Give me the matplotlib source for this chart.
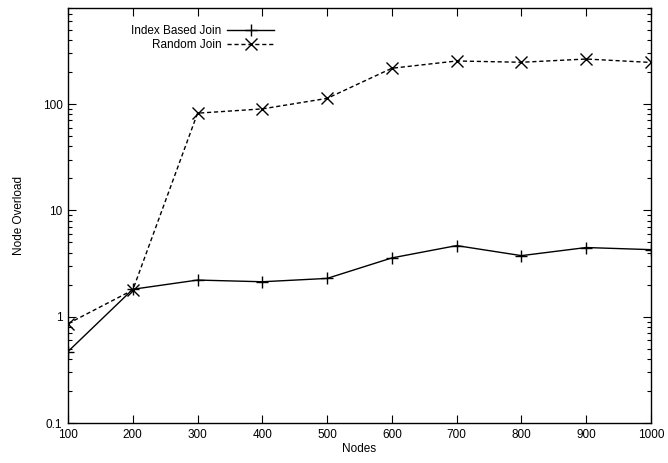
import matplotlib
matplotlib.use("Agg")
import matplotlib.pyplot as plt
from matplotlib.ticker import LogLocator, NullFormatter

plt.rcParams['font.family'] = ['Liberation Sans', 'DejaVu Sans']

nodes = [100, 200, 300, 400, 500, 600, 700, 800, 900, 1000]
index_join = [0.47, 1.81, 2.21, 2.13, 2.29, 3.57, 4.66, 3.75, 4.47, 4.27]
random_join = [0.86, 1.78, 82, 90, 113, 217, 254, 247, 265, 246]
ytick_vals = [0.1, 1, 10, 100]
ytick_labels = ['0.1', '1', '10', '100']

fig = plt.figure(figsize=(6.68, 4.63), dpi=100)
ax = fig.add_axes([68 / 668, 1 - 423 / 463, (651 - 68) / 668, (423 - 8) / 463])

ax.plot(nodes, index_join, color='black', lw=1.0, marker='+', ms=8, mew=1.0,
        label='Index Based Join')
ax.plot(nodes, random_join, color='black', lw=1.0, ls=(0, (3, 2)), marker='x',
        ms=8, mew=1.0, label='Random Join')

ax.set_yscale('log')
ax.set_xlim(100, 1000)
ax.set_ylim(0.1, 800)
ax.set_xticks(nodes)
ax.set_yticks(ytick_vals)
ax.set_yticklabels(ytick_labels)
ax.yaxis.set_minor_locator(LogLocator(base=10, subs=range(2, 10)))
ax.yaxis.set_minor_formatter(NullFormatter())

ax.tick_params(which='both', direction='in', top=True, right=True,
               labelsize=8.5, width=0.8, pad=4)
ax.tick_params(which='major', length=6)
ax.tick_params(which='minor', length=3)
for s in ax.spines.values():
    s.set_linewidth(1.0)

ax.set_xlabel('Nodes', fontsize=8.5, labelpad=2)
ax.set_ylabel('Node Overload', fontsize=8.5, labelpad=13)

leg = ax.legend(loc='upper left', bbox_to_anchor=(0.09, 0.985), frameon=False,
                fontsize=8.5, markerfirst=False, handlelength=4.0,
                handletextpad=0.5, labelspacing=0.2)
for t in leg.get_texts():
    t.set_ha('right')
leg._legend_box.align = 'right'

fig.savefig('out.png', dpi=100)
